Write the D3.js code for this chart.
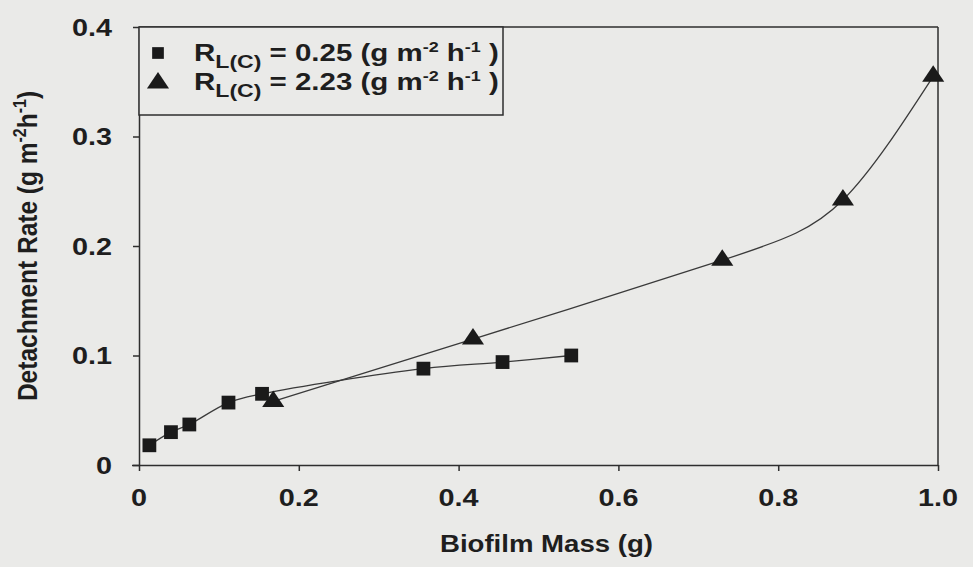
<!DOCTYPE html>
<html><head><meta charset="utf-8">
<script src="https://cdn.jsdelivr.net/npm/d3@7"></script>
<style>
html,body{margin:0;padding:0;background:#eaeae8;}
svg{display:block;}
text{font-family:"Liberation Sans",Arial,sans-serif;fill:#1e1e1e;}
</style></head>
<body>
<script>
// ---- data ----
const squareMass = [0.013, 0.040, 0.063, 0.112, 0.154, 0.356, 0.455, 0.541];
const squareRate = [0.018, 0.030, 0.037, 0.057, 0.065, 0.088, 0.094, 0.100];
const triangleMass = [0.168, 0.418, 0.730, 0.881, 0.994];
const triangleRate = [0.058, 0.115, 0.187, 0.242, 0.355];
const xTicks = [0, 0.2, 0.4, 0.6, 0.8, 1.0];
const xTickLabels = ["0", "0.2", "0.4", "0.6", "0.8", "1.0"];
const yTicks = [0, 0.1, 0.2, 0.3, 0.4];
const yTickLabels = ["0", "0.1", "0.2", "0.3", "0.4"];
const legendValues = ["0.25", "2.23"];

const W = 973, H = 567;
const m = {left:139, right:35, top:27, bottom:102};
const SX = 1.2; // horizontal stretch of the scanned text
const ink = "#2e2e2e";
const bg = "#eaeae8";

const svg = d3.select("body").append("svg").attr("width", W).attr("height", H);
svg.append("rect").attr("width", W).attr("height", H).attr("fill", bg);

const x = d3.scaleLinear().domain([0, 1]).range([m.left, W - m.right]);
const y = d3.scaleLinear().domain([0, 0.4]).range([H - m.bottom, m.top]);

// frame (top and right borders)
svg.append("line").attr("x1", x(0)).attr("x2", x(1)).attr("y1", y(0.4)).attr("y2", y(0.4))
  .attr("stroke", ink).attr("stroke-width", 1.5);
svg.append("line").attr("x1", x(1)).attr("x2", x(1)).attr("y1", y(0.4)).attr("y2", y(0))
  .attr("stroke", ink).attr("stroke-width", 1.5);

// axes
const xAxis = d3.axisBottom(x).tickValues(xTicks).tickSize(6).tickFormat("");
const gx = svg.append("g").attr("transform", `translate(0,${y(0)})`).call(xAxis);
gx.select(".domain").attr("d", `M${x(0)-7},0.5H${x(1)}`);
const yAxis = d3.axisLeft(y).tickValues(yTicks).tickSize(6).tickFormat("");
const gy = svg.append("g").attr("transform", `translate(${x(0)},0)`).call(yAxis);
gy.select(".domain").attr("d", `M0.5,${y(0.4)}V${y(0)}`);
svg.selectAll(".domain").attr("stroke", ink).attr("stroke-width", 1.5);
svg.selectAll(".tick line").attr("stroke", ink).attr("stroke-width", 1.5);

// tick labels (stretched horizontally like the scan)
xTicks.forEach((v, i) => {
  svg.append("g").attr("transform", `translate(${x(v)},${y(0) + 41}) scale(${SX},1)`)
    .append("text").attr("text-anchor", "middle").attr("font-size", 24).attr("font-weight", "bold")
    .text(xTickLabels[i]);
});
yTicks.forEach((v, i) => {
  svg.append("g").attr("transform", `translate(112,${y(v) + 8.5}) scale(${SX},1)`)
    .append("text").attr("text-anchor", "end").attr("font-size", 24).attr("font-weight", "bold")
    .text(yTickLabels[i]);
});

// axis titles
svg.append("g").attr("transform", `translate(${(x(0)+x(1))/2 + 8},${H - 15}) scale(${SX},1)`)
  .append("text").attr("text-anchor", "middle").attr("font-size", 23).attr("font-weight", "bold")
  .text("Biofilm Mass (g)");
const yt = svg.append("g").attr("transform", `translate(37,${(y(0)+y(0.4))/2}) scale(1.1,1) rotate(-90)`)
  .append("text").attr("text-anchor", "middle").attr("font-size", 24.5).attr("font-weight", "bold");
yt.append("tspan").text("Detachment Rate (g m");
yt.append("tspan").attr("font-size", 16).attr("dy", -10).text("-2");
yt.append("tspan").attr("dy", 10).text("h");
yt.append("tspan").attr("font-size", 16).attr("dy", -10).text("-1");
yt.append("tspan").attr("dy", 10).text(")");

// lines
const sqData = squareMass.map((v, i) => [v, squareRate[i]]);
const trData = triangleMass.map((v, i) => [v, triangleRate[i]]);
const sqLine = d3.line().x(d => x(d[0])).y(d => y(d[1])).curve(d3.curveCatmullRom.alpha(0.5));
const trLine = d3.line().x(d => x(d[0])).y(d => y(d[1])).curve(d3.curveNatural);
svg.append("path").datum(sqData).attr("d", sqLine).attr("fill", "none").attr("stroke", "#3a3a3a").attr("stroke-width", 1.3);
svg.append("path").datum(trData).attr("d", trLine).attr("fill", "none").attr("stroke", "#3a3a3a").attr("stroke-width", 1.3);

// markers
const sq = d3.symbol().type(d3.symbolSquare).size(190);
const tr = d3.symbol().type(d3.symbolTriangle).size(160);
svg.selectAll(".sq").data(sqData).join("path").attr("class", "sq")
  .attr("transform", d => `translate(${x(d[0])},${y(d[1])})`).attr("d", sq).attr("fill", "#1a1a1a");
svg.selectAll(".tr").data(trData).join("path").attr("class", "tr")
  .attr("transform", d => `translate(${x(d[0])},${y(d[1])}) scale(1.15,1)`).attr("d", tr).attr("fill", "#1a1a1a");

// legend
const lg = svg.append("g");
lg.append("rect").attr("x", x(0)).attr("y", y(0.4)).attr("width", 364).attr("height", 88)
  .attr("fill", bg).attr("stroke", ink).attr("stroke-width", 1.5);
const legendSymbols = [sq, tr];
legendValues.forEach((val, i) => {
  const cy = 53 + i * 29;
  lg.append("path").attr("d", legendSymbols[i]).attr("fill", "#1a1a1a")
    .attr("transform", `translate(158,${cy + (i ? 1 : 0)})` + (i ? " scale(1.15,1)" : " scale(0.85)"));
  const g = lg.append("g");
  const t = g.append("text").attr("font-size", 23).attr("font-weight", "bold");
  t.append("tspan").text("R");
  t.append("tspan").attr("font-size", 18).attr("dy", 7).text("L(C)");
  t.append("tspan").attr("dy", -7).text(" = " + val + " (g m");
  t.append("tspan").attr("font-size", 14).attr("dy", -9).text("-2");
  t.append("tspan").attr("dy", 9).text(" h");
  t.append("tspan").attr("font-size", 14).attr("dy", -9).text("-1");
  t.append("tspan").attr("dy", 9).text(" )");
  const w = t.node().getBBox().width;
  g.attr("transform", `translate(194,${cy + 8}) scale(${305 / w},1)`);
});
</script>
</body></html>
